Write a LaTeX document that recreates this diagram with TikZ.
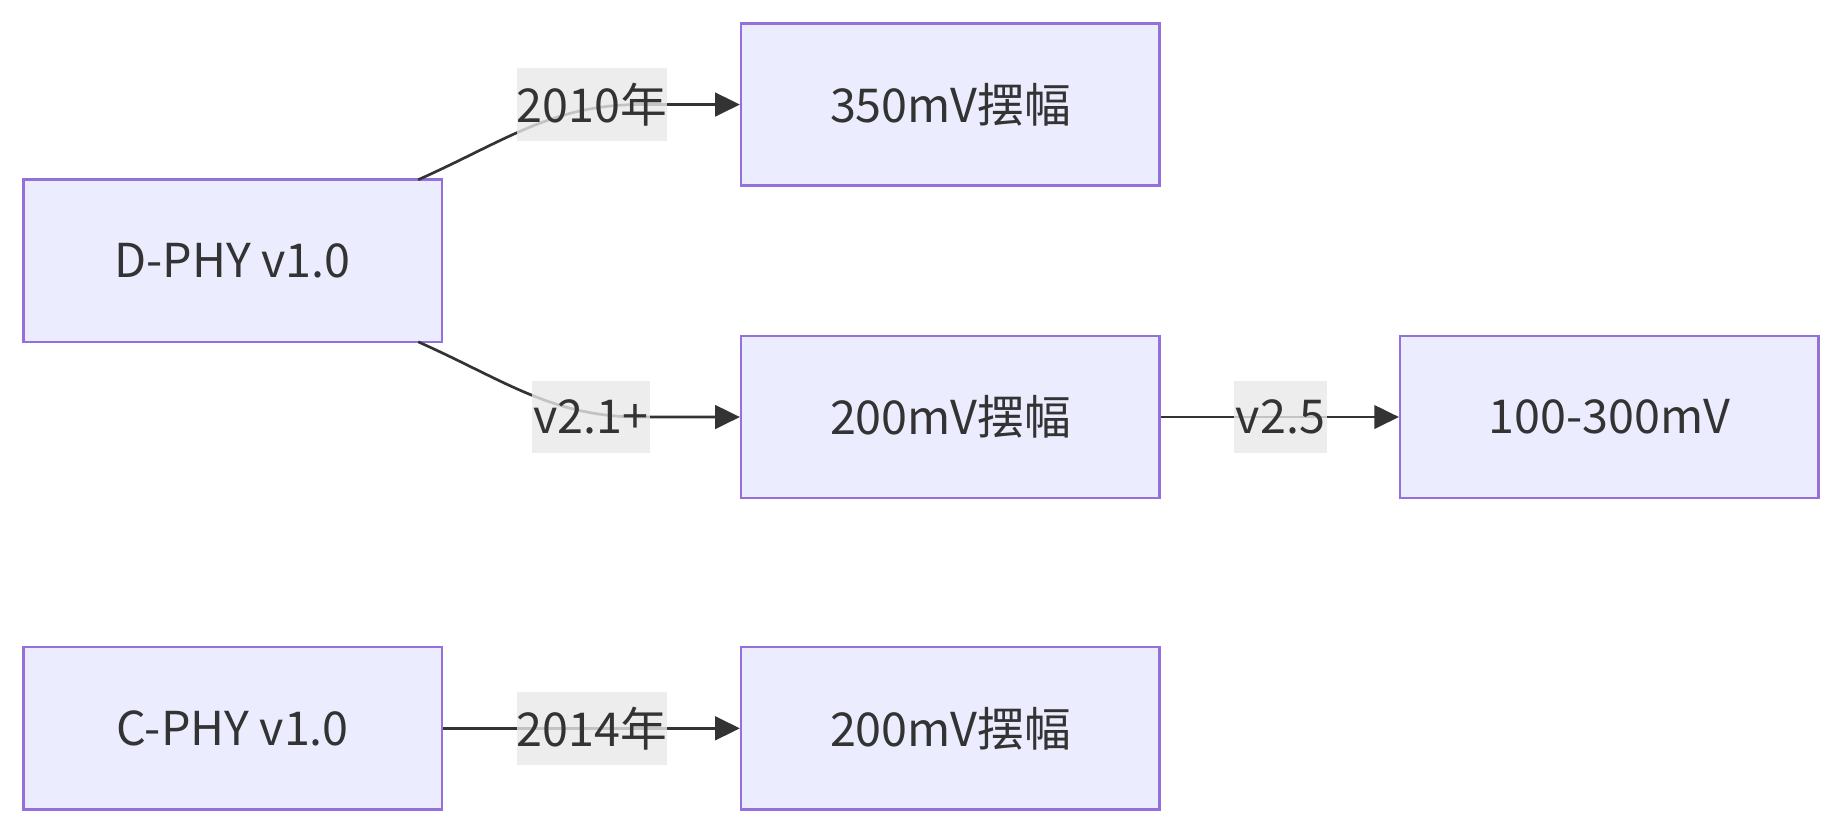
\documentclass[tikz,border=0pt]{standalone}
\usepackage{fontspec}
\setmainfont{Noto Sans CJK SC}
\usetikzlibrary{arrows.meta}
\definecolor{nodefill}{HTML}{ECECFF}
\definecolor{nodeborder}{HTML}{9370DB}
\definecolor{txt}{HTML}{333333}
\definecolor{lblbg}{HTML}{E8E8E8}
\begin{document}
\begin{tikzpicture}[x=0.01cm,y=-0.01cm,
  box/.style={draw=nodeborder,fill=nodefill,line width=0.6pt,minimum width=3.56cm,minimum height=1.38cm,inner sep=0pt,text=txt,font=\fontsize{11.3pt}{13pt}\selectfont},
  lbl/.style={fill=lblbg,fill opacity=0.8,text opacity=1,text=txt,inner sep=0pt,minimum height=0.62cm,font=\fontsize{11.3pt}{13pt}\selectfont},
  edge/.style={draw=txt,line width=0.65pt,-{Triangle[length=0.21cm,width=0.2cm]}}]
\useasboundingbox (0,0) rectangle (1568,710);
\node[box] (d) at (198,222) {D-PHY v1.0};
\node[box] (a) at (809,89) {350mV摆幅};
\node[box] (b) at (809,355) {200mV摆幅};
\node[box] (c) at (1370,355) {100-300mV};
\node[box] (p) at (198,620) {C-PHY v1.0};
\node[box] (q) at (809,620) {200mV摆幅};
\coordinate (s1) at (356,153);
\coordinate (s2) at (356,291);
\draw[edge] (s1) .. controls (430,120) and (470,89) .. (545,89) -- (a.west);
\draw[edge] (s2) .. controls (430,324) and (470,355) .. (545,355) -- (b.west);
\draw[edge] (b.east) -- (c.west);
\draw[edge] (p.east) -- (q.west);
\node[lbl,minimum width=1.28cm] (l1) at (504,89) {2010年};
\node[lbl,minimum width=1.00cm] (l2) at (503,355) {v2.1+};
\node[lbl,minimum width=0.79cm] (l3) at (1090,355) {v2.5};
\node[lbl,minimum width=1.28cm] (l4) at (504,620) {2014年};
\end{tikzpicture}
\end{document}
